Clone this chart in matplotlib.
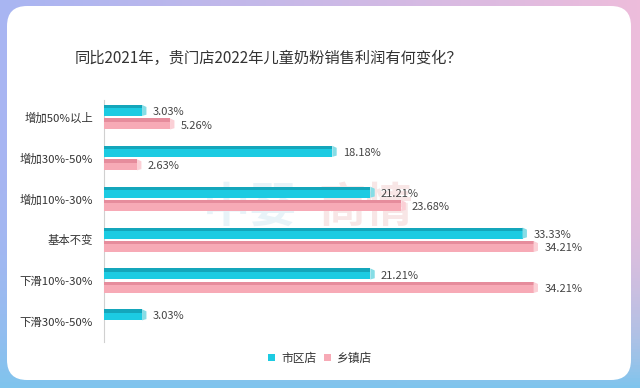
import numpy as np
import matplotlib.pyplot as plt
from matplotlib.patches import FancyBboxPatch, Polygon, Rectangle

plt.rcParams['font.family'] = ['Noto Sans CJK SC', 'DejaVu Sans']

# 数据
categories = ['增加50%以上', '增加30%-50%', '增加10%-30%', '基本不变', '下滑10%-30%', '下滑30%-50%']
city = [3.03, 18.18, 21.21, 33.33, 21.21, 3.03]
town = [5.26, 2.63, 23.68, 34.21, 34.21, np.nan]
series_names = ['市区店', '乡镇店']

c_city, c_city_top, c_city_cap = '#1ccbe2', '#14a6bb', '#86dde6'
c_town, c_town_top, c_town_cap = '#f7aab6', '#e68c9c', '#fbd0d6'

fig = plt.figure(figsize=(6.4, 3.88), dpi=100)

# 渐变边框 + 白色圆角底
bg = fig.add_axes([0, 0, 1, 1])
bg.set_xlim(0, 640)
bg.set_ylim(388, 0)
bg.axis('off')
xx, yy = np.meshgrid(np.linspace(0, 1, 200), np.linspace(0, 1, 120))
left_c = np.array([0.66, 0.71, 0.95])
right_c = np.array([0.93, 0.74, 0.86])
bot_c = np.array([0.50, 0.77, 0.93])
img = left_c * (1 - xx[..., None]) + right_c * xx[..., None]
img = img * (1 - yy[..., None] ** 4) + bot_c * yy[..., None] ** 4
bg.imshow(img, extent=[0, 640, 388, 0], aspect='auto', zorder=0)
bg.add_patch(FancyBboxPatch((7 + 20, 6 + 20), 624 - 40, 374 - 40,
                            boxstyle='round,pad=20', fc='white', ec='none', zorder=1))

# 水印
bg.text(203, 222, '中婴', fontsize=34, color='#d6eaf4', alpha=0.55, fontweight='bold', zorder=2)
bg.text(318, 222, '商情', fontsize=34, color='#f3d2d2', alpha=0.55, fontweight='bold', zorder=2)

bg.text(268, 58, '同比2021年，贵门店2022年儿童奶粉销售利润有何变化？', fontsize=11,
        color='#333333', ha='center', va='center', zorder=3)

ax = fig.add_axes([104 / 640, 1 - 342 / 388, 496 / 640, 242 / 388])
ax.patch.set_alpha(0)
y = np.arange(len(categories))
h = 0.27
off = 0.165


def draw_bars(vals, ypos, body, top, cap):
    for yi, v in zip(ypos, vals):
        if np.isnan(v):
            continue
        ax.barh(yi, v, height=h, color=body, zorder=3)
        ax.barh(yi - h / 2 + h * 0.15, v, height=h * 0.3, color=top, zorder=4)
        ax.add_patch(Polygon([[v, yi - h / 2], [v + 0.35, yi - h / 2 + 0.05],
                              [v + 0.35, yi + h / 2 - 0.03], [v, yi + h / 2]],
                             closed=True, fc=cap, ec='none', zorder=4))
        ax.text(v + 0.85, yi + 0.04, f'{v:.2f}%', va='center', ha='left',
                fontsize=8, color='#444444', zorder=5)


draw_bars(city, y - off, c_city, c_city_top, c_city_cap)
draw_bars(town, y + off, c_town, c_town_top, c_town_cap)

ax.set_xlim(0, 39.5)
ax.set_ylim(5.5, -0.42)
ax.set_yticks(y)
ax.set_yticklabels(categories, fontsize=8.2, color='#333333')
ax.tick_params(axis='y', length=0, pad=8)
ax.set_xticks([])
for s in ['top', 'right', 'bottom']:
    ax.spines[s].set_visible(False)
ax.spines['left'].set_color('#d0d0d0')

# 图例
bg.add_patch(Rectangle((268, 354), 7, 7, fc=c_city, zorder=3))
bg.text(281, 358, series_names[0], fontsize=8.5, color='#333333', va='center', zorder=3)
bg.add_patch(Rectangle((324, 354), 7, 7, fc=c_town, zorder=3))
bg.text(336, 358, series_names[1], fontsize=8.5, color='#333333', va='center', zorder=3)

fig.savefig('out.png', dpi=100)
